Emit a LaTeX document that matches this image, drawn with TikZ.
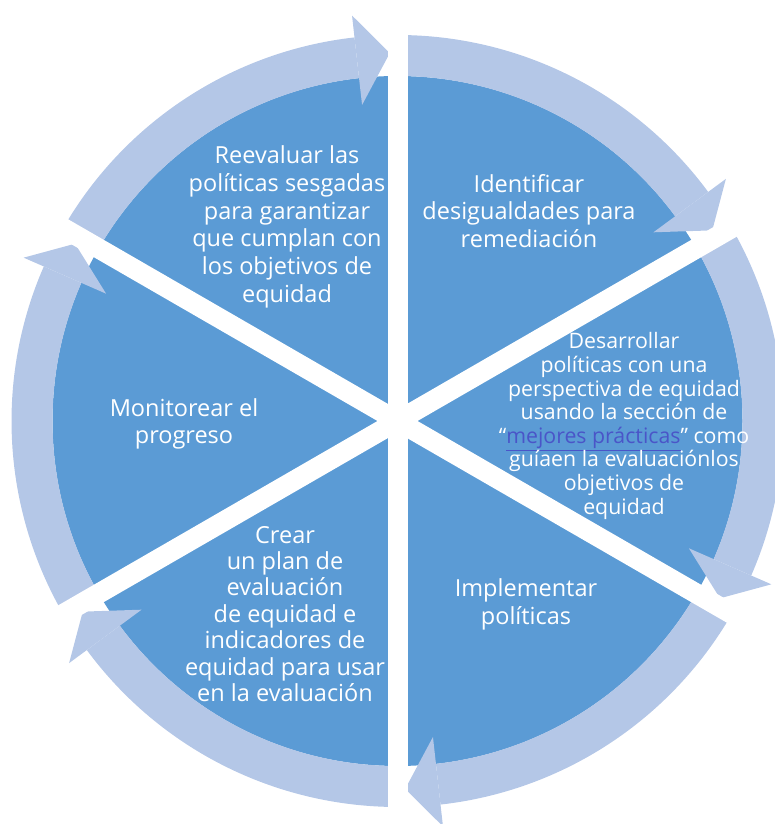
\documentclass[tikz,border=0pt]{standalone}
\usepackage{fontspec}
\setmainfont{Open Sans}
\definecolor{darkfill}{HTML}{5B9BD5}
\definecolor{ringfill}{HTML}{B4C7E7}
\definecolor{linkblue}{HTML}{4A55C8}
\begin{document}
\begin{tikzpicture}[x=1pt,y=1pt,
  lbl/.style={text=white,align=center,font=\fontsize{23.5}{27.8}\selectfont,inner sep=0pt},
  lbltight/.style={text=white,align=center,font=\fontsize{23.5}{26.4}\selectfont,inner sep=0pt},
  lblsmall/.style={text=white,align=center,font=\fontsize{21.3}{23.6}\selectfont,inner sep=0pt},
  ringarrow/.style={fill=ringfill,draw=none},
  gapbar/.style={draw=white,line width=20pt}]
\useasboundingbox (0,0) rectangle (775,824);
\coordinate (C) at (397.5,403);
\fill[darkfill] (C) circle[radius=345];
\begin{scope}[shift={(C)}]
\foreach \g in {90,30,-30,-90,-150,150}{
  \pgfmathsetmacro{\s}{\g+60}
  \pgfmathsetmacro{\b}{\g+6.4}
  \pgfmathsetmacro{\t}{\g+1.2}
  \fill[ringarrow] (\s:386) arc[start angle=\s,end angle=\b,radius=386]
     -- (\b:345) arc[start angle=\b,end angle=\s,radius=345] -- cycle;
  \fill[ringarrow] (\b:408) -- (\t:368) -- (\b:318) -- cycle;
}
\foreach \g in {90,30,-30}{
  \draw[gapbar] (\g:420) -- (\g+180:420);
}
\end{scope}
\node[lbl] (reevaluar) at (287,597) {Reevaluar las\\políticas sesgadas\\para garantizar\\que cumplan con\\los objetivos de\\equidad};
\node[lbl] (identificar) at (529,613) {Identificar\\desigualdades para\\remediación};
\node[lblsmall] (desarrollar) at (624,398) {Desarrollar\\políticas con una\\perspectiva de equidad\\usando la sección de\\“\textcolor{linkblue}{\underline{mejores prácticas}}” como\\guíaen la evaluaciónlos\\objetivos de\\equidad};
\node[lbl] (implementar) at (526,220) {Implementar\\políticas};
\node[lbltight] (crear) at (285,210) {Crear\\un plan de\\evaluación\\de equidad e\\indicadores de\\equidad para usar\\en la evaluación};
\node[lbl] (monitorear) at (184,400) {Monitorear el\\progreso};
\end{tikzpicture}
\end{document}
